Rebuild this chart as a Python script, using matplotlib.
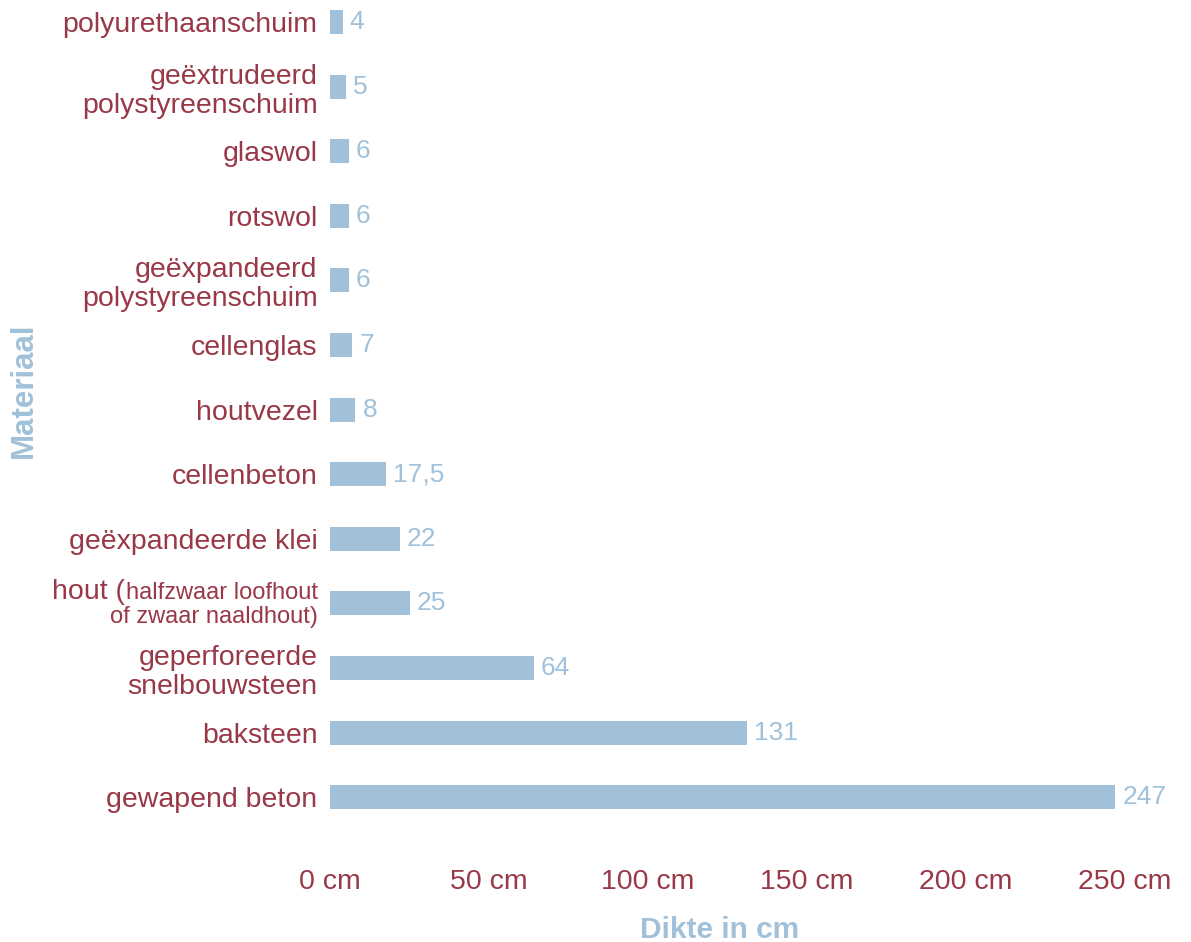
import matplotlib
matplotlib.use('Agg')
from matplotlib import pyplot as plt
import numpy as np

# data, bottom to top
materials = ['gewapend beton', 'baksteen', 'geperforeerde\nsnelbouwsteen',
             'hout', 'geëxpandeerde klei', 'cellenbeton', 'houtvezel',
             'cellenglas', 'geëxpandeerd\npolystyreenschuim', 'rotswol',
             'glaswol', 'geëxtrudeerd\npolystyreenschuim', 'polyurethaanschuim']
thickness = [247, 131, 64, 25, 22, 17.5, 8, 7, 6, 6, 6, 5, 4]
xticks = [0, 50, 100, 150, 200, 250]
xtick_labels = ['0 cm', '50 cm', '100 cm', '150 cm', '200 cm', '250 cm']

red = '#993847'
blue = '#a0c1d9'
plt.rcParams['font.family'] = ['Liberation Sans', 'DejaVu Sans']

W, H, dpi = 1191, 942, 100
fig = plt.figure(figsize=(W / dpi, H / dpi), dpi=dpi)
left, right, top, bottom = 330, 1154, 0, 836
ax = fig.add_axes([left / W, 1 - bottom / H, (right - left) / W, (bottom - top) / H])

ypos = np.arange(len(materials))
ax.barh(ypos, thickness, height=0.37, color=blue)
ax.set_xlim(0, (right - left) / 3.18)
ax.set_ylim(-0.60, 12.34)

for y, v in zip(ypos, thickness):
    txt = ('%g' % v).replace('.', ',')
    ax.annotate(txt, xy=(v, y), xytext=(5, 0), textcoords='offset points',
                ha='left', va='center', color=blue, fontsize=19)

ax.set_yticks(ypos)
ax.set_yticklabels(['' if m == 'hout' else m for m in materials],
                   fontsize=20.5, color=red, linespacing=1.15)
ax.set_xticks(xticks)
ax.set_xticklabels(xtick_labels, fontsize=20.5, color=red)
ax.tick_params(axis='y', length=0, pad=9)
ax.tick_params(axis='x', length=0, pad=24)
for s in ax.spines.values():
    s.set_visible(False)

# composite label for "hout (halfzwaar loofhout of zwaar naaldhout)"
yh = materials.index('hout')
kw = dict(xy=(0, yh), xycoords=('axes fraction', 'data'),
          textcoords='offset points', ha='right', va='baseline', color=red)
line1 = ax.annotate('halfzwaar loofhout', xytext=(-9, 3.2), fontsize=17, **kw)
ax.annotate('of zwaar naaldhout)', xytext=(-9, -14.4), fontsize=17, **kw)
fig.canvas.draw()
w1 = line1.get_window_extent().width * 72 / dpi
ax.annotate('hout (', xytext=(-9 - w1, 3.2), fontsize=20.5, **kw)

fig.text(720 / W, 1 - 930 / H, 'Dikte in cm', ha='center', va='center',
         fontsize=21.5, fontweight='bold', color=blue)
fig.text(24 / W, 1 - 390 / H, 'Materiaal', ha='center', va='center',
         rotation=90, fontsize=22.5, fontweight='bold', color=blue)

fig.savefig('out.png', dpi=dpi)
